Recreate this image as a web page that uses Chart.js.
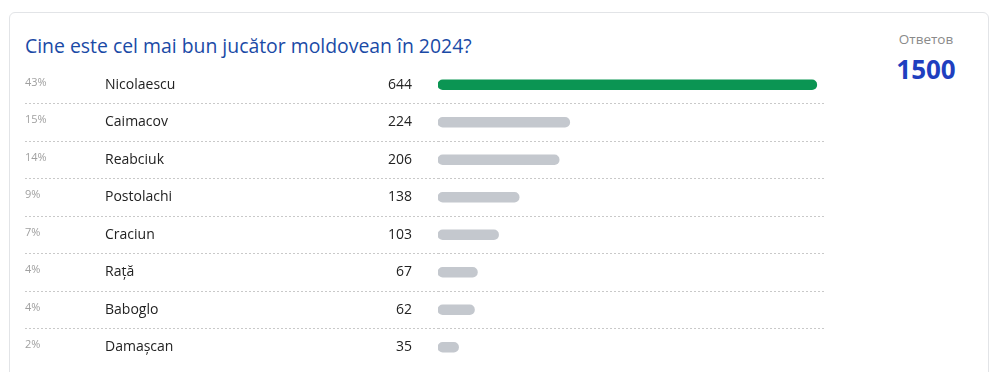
<!DOCTYPE html>
<html>
<head>
<meta charset="utf-8">
<script src="https://cdn.jsdelivr.net/npm/chart.js@4"></script>
<style>
  body { margin: 0; background: #fff; font-family: "Open Sans", sans-serif; overflow: hidden; }
  #card {
    position: absolute; left: 9px; top: 12px; width: 980px; height: 400px;
    border: 1px solid #e2e4e7; border-radius: 6px; box-sizing: border-box;
  }
  #title {
    position: absolute; left: 25px; top: 32px; font-size: 19.4px; color: #1a4aa6;
    white-space: nowrap;
  }
  #totalLabel {
    position: absolute; left: 866px; width: 120px; top: 30px; text-align: center;
    font-size: 13.5px; color: #8a8a8a;
  }
  #total {
    position: absolute; left: 866px; width: 120px; top: 51px; text-align: center;
    font-size: 26px; font-weight: bold; color: #1f3fbf;
  }
  #pollChart { position: absolute; left: 0; top: 66px; }
</style>
</head>
<body>
<div id="card"></div>
<div id="title">Cine este cel mai bun jucător moldovean în 2024?</div>
<div id="totalLabel">Ответов</div>
<div id="total">1500</div>
<canvas id="pollChart" width="1000" height="300"></canvas>
<script>
const players = ["Nicolaescu", "Caimacov", "Reabciuk", "Postolachi", "Craciun", "Rață", "Baboglo", "Damașcan"];
const votes = [644, 224, 206, 138, 103, 67, 62, 35];
const percents = ["43%", "15%", "14%", "9%", "7%", "4%", "4%", "2%"];

const leader = Math.max(...votes);
const barColors = votes.map((v) => (v === leader ? "#0b9553" : "#c4c8ce"));

// hide the first and last separator, keep the ones between rows
const sepColor = function (context) {
  if (context.index === undefined || context.index === 0) return "rgba(0,0,0,0)";
  return "#c9c9c9";
};

// percent / name / count columns on the left of the bars
const rowText = {
  id: "rowText",
  afterDraw(chart) {
    const ctx = chart.ctx;
    const yScale = chart.scales.y;
    ctx.save();
    ctx.textBaseline = "middle";
    players.forEach((name, i) => {
      const y = yScale.getPixelForValue(i);
      ctx.fillStyle = "#a0a0a0";
      ctx.font = "11px 'Open Sans'";
      ctx.textAlign = "left";
      ctx.fillText(percents[i], 25, y - 2);
      ctx.fillStyle = "#222";
      ctx.font = "14px 'Open Sans'";
      ctx.fillText(name, 105, y);
      ctx.textAlign = "right";
      ctx.fillText(votes[i], 412, y);
    });
    ctx.restore();
  },
};

new Chart(document.getElementById("pollChart").getContext("2d"), {
  type: "bar",
  data: {
    labels: players,
    datasets: [
      {
        data: votes,
        backgroundColor: barColors,
        barThickness: 10,
        borderRadius: 5,
        borderSkipped: false,
      },
    ],
  },
  options: {
    indexAxis: "y",
    responsive: false,
    animation: false,
    layout: { padding: { left: 25, right: 175, top: 0, bottom: 0 } },
    scales: {
      x: { display: false, min: 0, max: 658 },
      y: {
        afterFit: (scale) => { scale.width = 413; },
        ticks: { display: false },
        border: { display: false, dash: [2, 2] },
        grid: {
          offset: true,
          color: sepColor,
          tickColor: sepColor,
          tickLength: 413,
          tickBorderDash: [2, 2],
          lineWidth: 1,
        },
      },
    },
    plugins: {
      legend: { display: false },
      tooltip: { enabled: false },
    },
  },
  plugins: [rowText],
});
</script>
</body>
</html>
